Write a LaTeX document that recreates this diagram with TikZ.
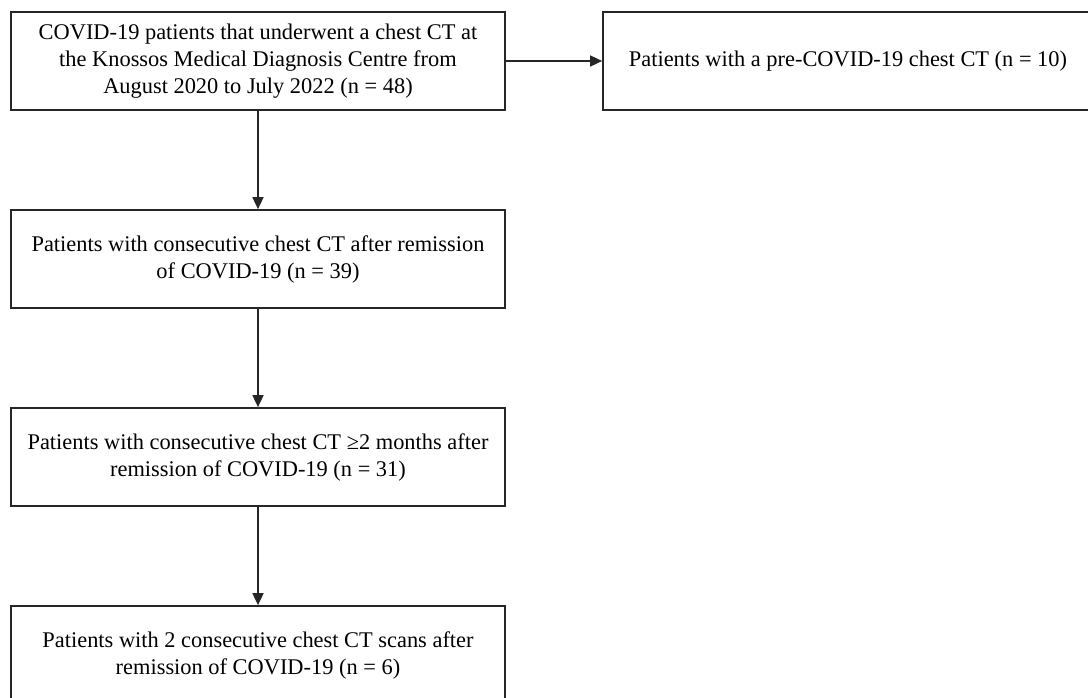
\documentclass[tikz,border=0pt]{standalone}
\usepackage{fontspec}
\setmainfont{Liberation Serif}
\usetikzlibrary{arrows.meta}
\tikzset{
  box/.style={draw=black!85, line width=0.85pt, rectangle, inner sep=0pt,
    minimum width=247pt, minimum height=49pt, align=center,
    font=\fontsize{11.2}{13.5}\selectfont},
  conn/.style={draw=black!85, line width=0.8pt, -{Triangle[length=6pt,width=5.5pt]}}
}
\begin{document}
\begin{tikzpicture}[x=0.5pt,y=-0.5pt]
\useasboundingbox (0,0) rectangle (1088,697);
\node[box] (a) at (258,61) {COVID-19 patients that underwent a chest CT at\\the Knossos Medical Diagnosis Centre from\\August 2020 to July 2022 (n = 48)};
\node[box, minimum width=245pt] (r) at (848,61) {Patients with a pre-COVID-19 chest CT (n = 10)};
\node[box] (b) at (258,259) {Patients with consecutive chest CT after remission\\of COVID-19 (n = 39)};
\node[box] (c) at (258,457) {Patients with consecutive chest CT ≥2 months after\\remission of COVID-19 (n = 31)};
\node[box] (d) at (258,655) {Patients with 2 consecutive chest CT scans after\\remission of COVID-19 (n = 6)};
\draw[conn] (a) -- (r);
\draw[conn] (a) -- (b);
\draw[conn] (b) -- (c);
\draw[conn] (c) -- (d);
\end{tikzpicture}
\end{document}
